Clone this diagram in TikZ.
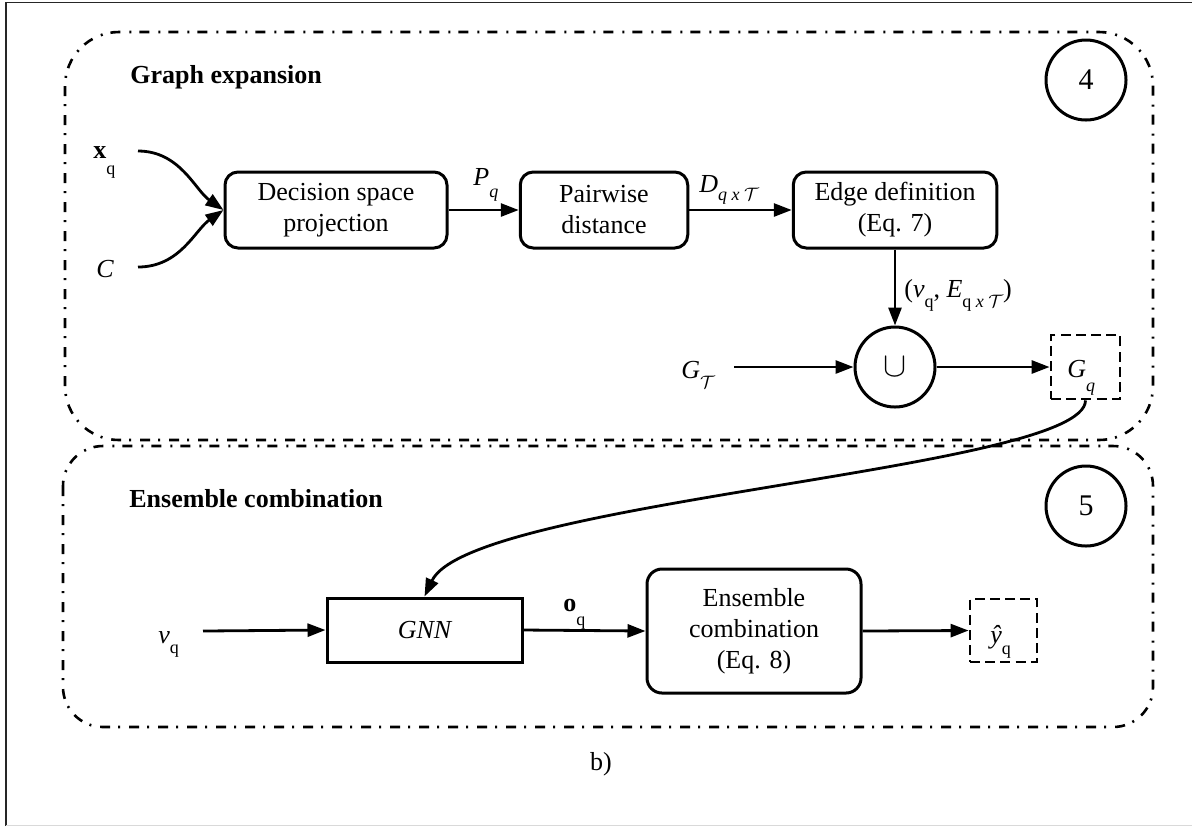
\documentclass[tikz,border=0pt]{standalone}
\usepackage{fontspec}
\setmainfont{Liberation Serif}
\usetikzlibrary{arrows.meta}

% lowered subscript in text
\newcommand\dn[2][6pt]{\raisebox{-#1}{\fontsize{9}{9}\selectfont #2}}
\newcommand\calT{$\mathcal{T}$}

\begin{document}
\begin{tikzpicture}[x=0.5pt,y=-0.5pt,
  every node/.style={font=\fontsize{13}{15.5}\selectfont},
  lab/.style={inner sep=0pt,anchor=base west},
  proc/.style={draw,line width=1.5pt,rounded corners=6.5pt,align=center,inner sep=0pt},
  plain/.style={draw,line width=1.5pt,align=center,inner sep=0pt},
  dbox/.style={draw,line width=1.4pt,dash pattern=on 5pt off 2.6pt,inner sep=0pt},
  ring/.style={draw,circle,line width=1.5pt,inner sep=0pt},
  group/.style={line width=1.3pt,dash pattern=on 5pt off 4pt on 1pt off 4.5pt},
  arr/.style={line width=1.4pt,-{Triangle[length=9pt,width=6.5pt]}},
  title/.style={inner sep=0pt,anchor=base west,font=\fontsize{13}{15.5}\selectfont\bfseries}]

\useasboundingbox (0,0) rectangle (1192,827);

% page frame
\draw[line width=0.8pt,black!85] (6,826) -- (6,2.5) -- (1192,2.5);
\draw[line width=0.8pt,black!15] (6,825.5) -- (1192,825.5);

% stage frames
\draw[group,rounded corners=27pt] (65,32) rectangle (1153,440);
\draw[group,rounded corners=20pt] (63,446) rectangle (1153,727);

% ---- stage 4: graph expansion
\node[title] (t4) at (130,83) {Graph expansion};
\node[ring,minimum size=40pt,font=\fontsize{15}{15}\selectfont] (c4) at (1086,80) {4};

\node[lab] (xq) at (93,158) {\textbf{x}\dn[8pt]{q}};
\node[lab] (cc) at (96,277) {\textit{C}};
\coordinate (xqo) at (138,151);
\coordinate (cco) at (138,267);

\node[proc,minimum width=111pt,minimum height=38pt] (dsp) at (336,210) {Decision space\\projection};
\node[proc,minimum width=83.75pt,minimum height=38pt] (pwd) at (604,210) {Pairwise\\distance};
\node[proc,minimum width=101.75pt,minimum height=38pt] (edg) at (895,210) {Edge definition\\(Eq. 7)};

\draw[arr] (xqo) .. controls (180,151) and (195,190) .. (dsp.west);
\draw[arr] (cco) .. controls (180,267) and (195,230) .. (dsp.west);

\draw[arr] (dsp.east) -- (pwd.west);
\node[lab] (pq) at (473,185) {\textit{P}\dn[6pt]{\textit{q}}};
\draw[arr] (pwd.east) -- (edg.west);
\node[lab] (dq) at (699,192) {\textit{D}\dn[4pt]{\textit{q x }\calT}};

\node[ring,minimum size=40pt,font=\fontsize{17}{17}\selectfont] (un) at (895,367) {$\cup$};
\draw[arr] (edg.south) -- (un.north);
\node[lab] (ve) at (904,297) {(\textit{v}\dn[5pt]{q}, \textit{E}\dn[5pt]{q \textit{x} \calT})};

\node[lab] (gt) at (681,378) {\textit{G}\dn[5pt]{\calT}};
\coordinate (gto) at (734,367);
\draw[arr] (gto) -- (un.west);

\node[dbox,minimum width=34.5pt,minimum height=32pt] (gq) at (1085.5,367) {};
\node[lab] (gql) at (1067,377) {\textit{G}\dn[7pt]{\textit{q}}};
\draw[arr] (un.east) -- (gq.west);

% ---- stage 5: ensemble combination
\node[title] (t5) at (129,507) {Ensemble combination};
\node[ring,minimum size=40pt,font=\fontsize{15}{15}\selectfont] (c5) at (1086,506) {5};

\node[lab] (vq) at (158,643) {\textit{v}\dn[5pt]{q}};
\coordinate (vqo) at (203,631);
\node[plain,minimum width=97.5pt,minimum height=32pt,font=\fontsize{13}{15.5}\selectfont\itshape] (gnn) at (424.5,630) {GNN};
\draw[arr] (vqo) -- (gnn.west);

\node[proc,rounded corners=7.5pt,minimum width=107pt,minimum height=62pt] (ens) at (754,631) {Ensemble\\combination\\(Eq. 8)};
\draw[arr] (gnn.east) -- (ens.west);
\node[lab] (oq) at (563,611) {\textbf{o}\dn[7pt]{q}};

\node[dbox,minimum width=33.5pt,minimum height=31.5pt] (yq) at (1003.5,630.5) {};
\node[lab] (yql) at (990,643) {\textit{ŷ}\dn[5.5pt]{q}};
\draw[arr] (ens.east) -- (yq.west);

% graph handed over to the GNN
\draw[arr] (gq.south) .. controls (1085,470) and (470,500) .. (gnn.north);

\node[inner sep=0pt,anchor=base] (cap) at (601,770) {b)};
\end{tikzpicture}
\end{document}
